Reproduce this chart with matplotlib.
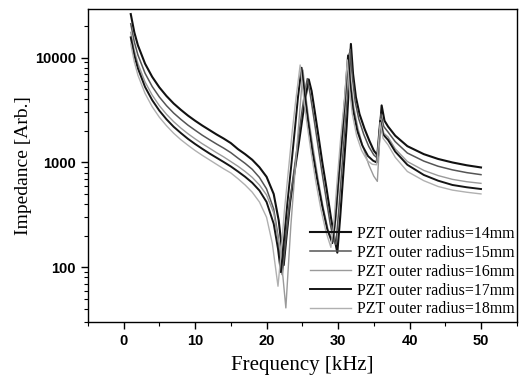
import matplotlib
matplotlib.use("Agg")
import matplotlib.pyplot as plt
from matplotlib.ticker import MultipleLocator, LogLocator, NullFormatter, FixedLocator

# ---- data ----
labels = ["PZT outer radius=14mm", "PZT outer radius=15mm", "PZT outer radius=16mm",
          "PZT outer radius=17mm", "PZT outer radius=18mm"]

f14 = [1, 1.5, 2, 3, 4, 5, 6, 7, 8, 9, 10, 11, 12, 13, 14, 15, 16, 17, 18, 19, 20, 21, 21.7, 22.4,
       22.8, 23.3, 23.9, 24.5, 25.0, 25.4, 25.9, 26.3, 26.7, 27.2, 27.8, 28.4, 29.0, 29.5, 29.9,
       30.3, 30.8, 31.2, 31.5, 31.8, 32.1, 32.5, 33.0, 33.7, 34.4, 35.0, 35.6, 36.1, 36.5, 37.0,
       38.0, 39.7, 42, 44, 46, 48, 50]
z14 = [26000, 17400, 13100, 8750, 6550, 5200, 4300, 3650, 3180, 2800, 2500, 2250, 2040, 1850, 1690,
       1530, 1340, 1200, 1060, 900, 730, 500, 280, 105,
       200, 420, 800, 1500, 2600, 4000, 6200, 4800, 3200, 1900, 1000, 560, 300, 190, 138,
       300, 900, 2200, 5000, 13500, 7000, 4200, 2900, 2100, 1600, 1300, 1150, 3500, 2500, 2200,
       1800, 1430, 1200, 1080, 1000, 940, 896]

f15 = [1, 1.5, 2, 3, 4, 5, 6, 7, 8, 9, 10, 11, 12, 13, 14, 15, 16, 17, 18, 19, 20, 21, 21.6, 22.2,
       22.7, 23.2, 23.8, 24.4, 24.9, 25.3, 25.7, 26.1, 26.6, 27.1, 27.7, 28.3, 28.9, 29.4, 29.7,
       30.1, 30.6, 31.0, 31.4, 31.7, 32.0, 32.4, 32.9, 33.6, 34.3, 35.0, 35.5, 36.0, 36.4, 37.0,
       38.0, 39.7, 42, 44, 46, 48, 50]
z15 = [21000, 14100, 10600, 7090, 5300, 4210, 3480, 2960, 2580, 2270, 2030, 1820, 1650, 1500, 1370,
       1240, 1100, 980, 860, 720, 560, 360, 200, 85,
       190, 400, 800, 1600, 2900, 4500, 6300, 4500, 2700, 1600, 850, 470, 260, 180, 165,
       350, 1000, 2400, 5200, 12000, 6500, 3800, 2600, 1850, 1420, 1180, 1100, 2900, 2200, 1950,
       1580, 1230, 1030, 920, 850, 800, 765]

f16 = [1, 1.5, 2, 3, 4, 5, 6, 7, 8, 9, 10, 11, 12, 13, 14, 15, 16, 17, 18, 19, 20, 21, 21.8, 22.3,
       22.7, 23.0, 23.4, 23.9, 24.4, 24.8, 25.1, 25.4, 25.9, 26.5, 27.2, 27.9, 28.6, 29.1, 29.4,
       29.8, 30.3, 30.8, 31.2, 31.5, 31.8, 32.2, 32.8, 33.5, 34.3, 35.0, 35.5, 36.0, 36.4, 37.0,
       38.0, 39.7, 42, 44, 46, 48, 50]
z16 = [17400, 11700, 8800, 5860, 4390, 3480, 2880, 2450, 2130, 1880, 1680, 1510, 1370, 1240, 1130,
       1020, 920, 820, 720, 610, 490, 330, 160, 80,
       41, 90, 250, 700, 1900, 4200, 7600, 4800, 2600, 1400, 700, 380, 230, 190, 180,
       350, 900, 2200, 5000, 11000, 6000, 3400, 2100, 1400, 950, 740, 660, 2600, 1900, 1750,
       1350, 1020, 840, 750, 690, 655, 632]

f17 = [1, 1.5, 2, 3, 4, 5, 6, 7, 8, 9, 10, 11, 12, 13, 14, 15, 16, 17, 18, 19, 20, 21, 21.6, 22.0,
       22.4, 22.9, 23.5, 24.0, 24.4, 24.9, 25.3, 25.8, 26.4, 27.1, 27.8, 28.5, 29.2,
       29.6, 30.1, 30.6, 31.0, 31.4, 31.7, 32.1, 32.7, 33.4, 34.2, 34.9, 35.4, 35.9, 36.3, 37.0,
       38.0, 39.7, 42, 44, 46, 48, 50]
z17 = [15600, 10500, 7900, 5250, 3930, 3120, 2580, 2190, 1910, 1680, 1500, 1350, 1220, 1110, 1010,
       916, 820, 730, 640, 540, 420, 260, 150, 90,
       170, 400, 1000, 2200, 4200, 8000, 4700, 2500, 1300, 680, 380, 230, 170,
       280, 750, 1900, 4300, 10500, 5600, 3200, 2000, 1450, 1150, 1040, 1000, 2500, 1850, 1640,
       1270, 950, 760, 670, 610, 580, 558]

f18 = [1, 1.5, 2, 3, 4, 5, 6, 7, 8, 9, 10, 11, 12, 13, 14, 15, 16, 17, 18, 19, 20, 20.8, 21.6,
       22.0, 22.5, 23.1, 23.6, 24.1, 24.7, 25.1, 25.6, 26.2, 26.9, 27.6, 28.3, 29.0,
       29.4, 29.9, 30.4, 30.9, 31.3, 31.6, 32.0, 32.6, 33.3, 34.1, 34.8, 35.4, 35.9, 36.3, 37.0,
       38.0, 39.7, 42, 44, 46, 48, 50]
z18 = [13500, 9100, 6800, 4550, 3400, 2700, 2240, 1900, 1650, 1460, 1300, 1170, 1060, 960, 870,
       794, 700, 610, 520, 420, 300, 170, 66,
       130, 350, 900, 2000, 4000, 8500, 4700, 2500, 1300, 650, 360, 220, 155,
       260, 700, 1800, 4000, 9500, 5000, 2900, 1800, 1300, 1040, 960, 950, 2400, 1700, 1470,
       1120, 820, 670, 590, 545, 520, 501]

freqs = [f14, f15, f16, f17, f18]
imps = [z14, z15, z16, z17, z18]
colors = ["#111111", "#555555", "#9a9a9a", "#151515", "#b0b0b0"]
widths = [1.5, 1.1, 1.0, 1.4, 1.0]

xticks = [0, 10, 20, 30, 40, 50]
yticks = [100, 1000, 10000]

# ---- figure ----
fig = plt.figure(figsize=(5.23, 3.79), dpi=100)
ax = fig.add_axes([0.168, 0.150, 0.820, 0.826])

for f, z, c, w, lab in zip(freqs, imps, colors, widths, labels):
    ax.plot(f, z, color=c, lw=w, label=lab)

ax.set_yscale("log")
ax.set_xlim(-5, 55)
ax.set_ylim(30, 29000)

ax.xaxis.set_major_locator(FixedLocator(xticks))
ax.xaxis.set_minor_locator(MultipleLocator(5))
ax.yaxis.set_major_locator(FixedLocator(yticks))
ax.yaxis.set_minor_locator(LogLocator(base=10, subs=range(2, 10)))
ax.yaxis.set_minor_formatter(NullFormatter())
ax.set_yticklabels([str(v) for v in yticks])
ax.set_xticklabels([str(v) for v in xticks])

ax.tick_params(which="both", direction="out", top=False, right=False, color="black")
ax.tick_params(which="major", length=5, width=1.0, labelsize=10.5)
ax.tick_params(which="minor", length=3, width=0.8)
for lbl in ax.get_xticklabels() + ax.get_yticklabels():
    lbl.set_family("Liberation Sans")
    lbl.set_fontweight("bold")

for s in ax.spines.values():
    s.set_linewidth(1.0)

ax.set_xlabel("Frequency [kHz]", family="Liberation Serif", fontsize=15, labelpad=6)
ax.set_ylabel("Impedance [Arb.]", family="Liberation Serif", fontsize=14, labelpad=2)

leg = ax.legend(loc="lower right", frameon=False, prop={"family": "Liberation Serif", "size": 11.4},
                handlelength=2.6, handletextpad=0.4, labelspacing=0.18,
                borderaxespad=0.0, bbox_to_anchor=(1.01, -0.005))

fig.savefig("out.png", dpi=100)
